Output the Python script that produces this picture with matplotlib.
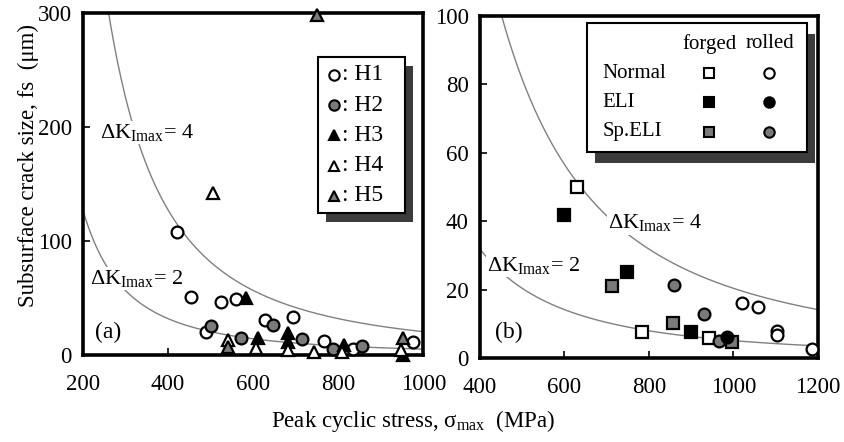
import numpy as np
import matplotlib
matplotlib.use("Agg")
import matplotlib.pyplot as plt
from matplotlib.patches import Rectangle

plt.rcParams['font.family'] = ['Liberation Serif', 'DejaVu Serif']
plt.rcParams['mathtext.fontset'] = 'custom'
plt.rcParams['mathtext.rm'] = 'Liberation Serif'
plt.rcParams['mathtext.it'] = 'Liberation Serif:italic'

GRAY = '#7a7a7a'
SHADOW = '#3c3c3c'
CURVE = '#808080'

# ---- panel (a) data: peak stress (MPa), crack size (um)
h1_x = [421, 454, 525, 560, 489, 628, 694, 767, 835, 975]
h1_y = [108, 51, 46, 49, 20, 31, 33, 12, 5, 11]
h2_x = [500, 572, 647, 715, 787, 855]
h2_y = [25, 15, 26, 14, 5, 8]
h3_x = [583, 612, 682, 682, 814, 953]
h3_y = [50, 15, 19, 11, 9, 0]
h4_x = [506, 540, 607, 682, 742, 810, 948]
h4_y = [142, 13, 6, 4, 3, 3, 4]
h5_x = [751, 541, 953]
h5_y = [298, 7, 15]

# ---- panel (b) data
fn_x = [630, 783, 942]            # forged Normal
fn_y = [50, 7.6, 5.8]
fe_x = [599, 748, 899]            # forged ELI
fe_y = [41.8, 25, 7.6]
fs_x = [712, 857, 996]            # forged Sp.ELI
fs_y = [21, 10.2, 4.6]
rn_x = [1020, 1058, 1103, 1103, 1186]  # rolled Normal
rn_y = [16, 15, 7.9, 6.7, 2.6]
re_x = [984]                      # rolled ELI
re_y = [6]
rs_x = [859, 930, 966]            # rolled Sp.ELI
rs_y = [21.3, 12.9, 5]

dk_levels = [4, 2]


def crack_size(dk, s):
    # dK = 0.5 * sigma * sqrt(pi * f)  ->  f in um
    return (2.0 * dk / s) ** 2 / np.pi * 1e6


fig = plt.figure(figsize=(8.45, 4.42), dpi=100)
axa = fig.add_axes([0.098, 0.197, 0.403, 0.774])
axb = fig.add_axes([0.568, 0.190, 0.400, 0.774])

ms = 8.5
mew = 1.6


def style(ax):
    for sp in ax.spines.values():
        sp.set_linewidth(2.6)
    ax.tick_params(direction='in', length=5, width=1.2, labelsize=16.5)
    ax.tick_params(axis='y', pad=8)
    ax.tick_params(axis='x', pad=14)


def mark(ax, x, y, m, fc, size=ms):
    ax.plot(x, y, ls='none', marker=m, ms=size, mfc=fc, mec='black',
            mew=mew, clip_on=False, zorder=5)


lab4 = r'$\Delta\mathrm{K}_{\mathrm{Imax}}$= 4'
lab2 = r'$\Delta\mathrm{K}_{\mathrm{Imax}}$= 2'

# ---------------- panel (a)
s = np.linspace(200, 1000, 400)
for dk in dk_levels:
    axa.plot(s, crack_size(dk, s), color=CURVE, lw=1.0, zorder=1)
mark(axa, h1_x, h1_y, 'o', 'white')
mark(axa, h2_x, h2_y, 'o', GRAY)
mark(axa, h3_x, h3_y, '^', 'black')
mark(axa, h4_x, h4_y, '^', 'white')
mark(axa, h5_x, h5_y, '^', GRAY)
axa.set_xlim(200, 1000)
axa.set_ylim(0, 300)
axa.set_xticks([200, 400, 600, 800, 1000])
axa.set_yticks([0, 100, 200, 300])
style(axa)

wb = dict(facecolor='white', edgecolor='none', pad=1)
axa.text(240, 195, lab4, fontsize=16, va='center', ha='left', bbox=wb, zorder=3)
axa.text(216, 67, lab2, fontsize=16, va='center', ha='left', bbox=wb, zorder=3)
axa.text(228, 20, '(a)', fontsize=17, va='center', ha='left')

# legend (a) with shadow
lx0, ly0, lw_, lh_ = 0.691, 0.415, 0.256, 0.456
axa.add_patch(Rectangle((lx0 + 0.024, ly0 - 0.026), lw_, lh_, transform=axa.transAxes,
                        facecolor=SHADOW, edgecolor='none', zorder=6, clip_on=False))
axa.add_patch(Rectangle((lx0, ly0), lw_, lh_, transform=axa.transAxes,
                        facecolor='white', edgecolor='black', lw=1.5, zorder=7,
                        clip_on=False))
leg_a = [('o', 'white', 'H1'), ('o', GRAY, 'H2'), ('^', 'black', 'H3'),
         ('^', 'white', 'H4'), ('^', GRAY, 'H5')]
for i, (m, fc, lab) in enumerate(leg_a):
    yy = 0.819 - i * 0.0885
    axa.plot([0.738], [yy], transform=axa.transAxes, marker=m, ms=7.5, mfc=fc,
             mec='black', mew=1.5, ls='none', zorder=8, clip_on=False)
    axa.text(0.760, yy, ': ' + lab, transform=axa.transAxes, fontsize=17,
             va='center', ha='left', zorder=8)

# ---------------- panel (b)
s = np.linspace(400, 1200, 400)
for dk in dk_levels:
    axb.plot(s, crack_size(dk, s), color=CURVE, lw=1.0, zorder=1)
mark(axb, fn_x, fn_y, 's', 'white')
mark(axb, fe_x, fe_y, 's', 'black')
mark(axb, fs_x, fs_y, 's', GRAY)
mark(axb, rn_x, rn_y, 'o', 'white')
mark(axb, rs_x, rs_y, 'o', GRAY)
mark(axb, re_x, re_y, 'o', 'black')
axb.set_xlim(400, 1200)
axb.set_ylim(0, 100)
axb.set_xticks([400, 600, 800, 1000, 1200])
axb.set_yticks([0, 20, 40, 60, 80, 100])
style(axb)

axb.text(703, 39.5, lab4, fontsize=16, va='center', ha='left', bbox=wb, zorder=3)
axb.text(417, 27, lab2, fontsize=16, va='center', ha='left', bbox=wb, zorder=3)
axb.text(435, 7.6, '(b)', fontsize=17, va='center', ha='left')

# legend (b)
bx0, by0, bw_, bh_ = 0.317, 0.602, 0.650, 0.378
axb.add_patch(Rectangle((bx0 + 0.024, by0 - 0.032), bw_, bh_, transform=axb.transAxes,
                        facecolor=SHADOW, edgecolor='none', zorder=6, clip_on=False))
axb.add_patch(Rectangle((bx0, by0), bw_, bh_, transform=axb.transAxes,
                        facecolor='white', edgecolor='black', lw=1.5, zorder=7,
                        clip_on=False))
axb.text(0.680, 0.919, 'forged', transform=axb.transAxes, fontsize=15,
         va='center', ha='center', zorder=8)
axb.text(0.858, 0.919, 'rolled', transform=axb.transAxes, fontsize=15,
         va='center', ha='center', zorder=8)
leg_b = [('Normal', 'white'), ('ELI', 'black'), ('Sp.ELI', GRAY)]
for i, (lab, fc) in enumerate(leg_b):
    yy = 0.833 - i * 0.086
    axb.text(0.362, yy, lab, transform=axb.transAxes, fontsize=15,
             va='center', ha='left', zorder=8)
    axb.plot([0.678], [yy], transform=axb.transAxes, marker='s', ms=7, mfc=fc,
             mec='black', mew=1.5, ls='none', zorder=8, clip_on=False)
    axb.plot([0.855], [yy], transform=axb.transAxes, marker='o', ms=7.5, mfc=fc,
             mec='black', mew=1.5, ls='none', zorder=8, clip_on=False)

fig.text(0.034, 0.625, 'Subsurface crack size, fs  (μm)', rotation=90,
         fontsize=16.5, va='center', ha='center')
fig.text(0.489, 0.048, r'Peak cyclic stress, $\mathrm{σ}_{\mathrm{max}}$  (MPa)',
         fontsize=16.5, va='center', ha='center')

fig.savefig('out.png', dpi=100)
